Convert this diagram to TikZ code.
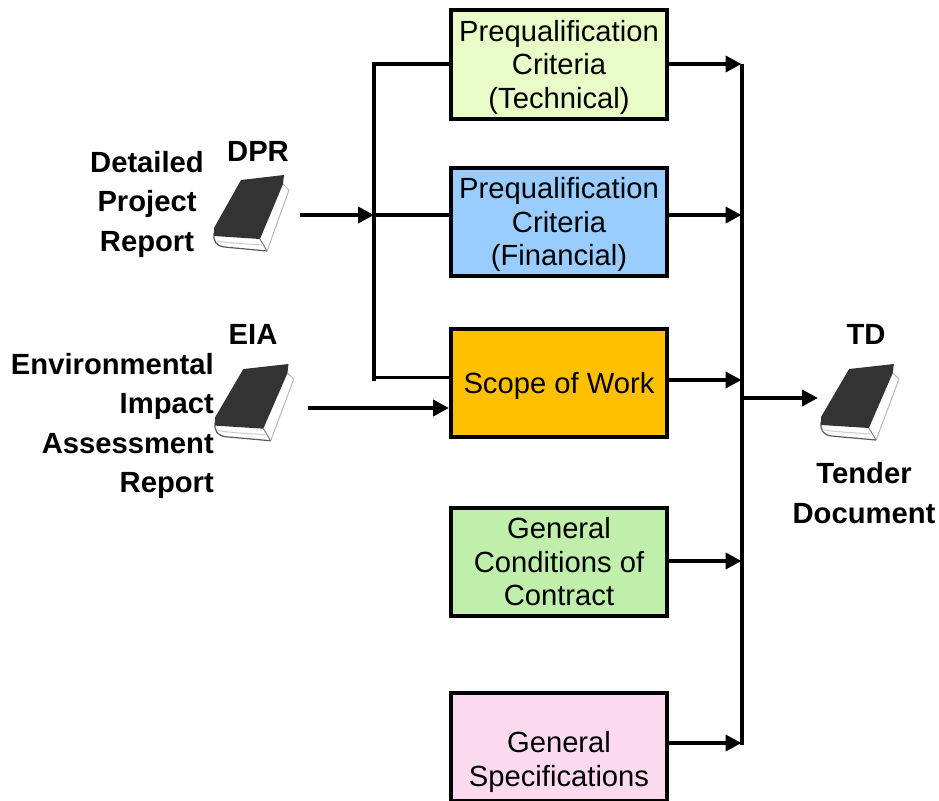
\documentclass[tikz,border=0pt]{standalone}
\usepackage{fontspec}
\setmainfont{Liberation Sans}
\usetikzlibrary{arrows.meta}
\definecolor{cTech}{HTML}{E9FCC8}
\definecolor{cFin}{HTML}{99CCFF}
\definecolor{cScope}{HTML}{FFC000}
\definecolor{cGen}{HTML}{C0EEAB}
\definecolor{cSpec}{HTML}{FBD9EE}
\definecolor{cCover}{HTML}{333333}
\newcommand{\dropped}[1]{\rule{0pt}{#1pt}}
\tikzset{
  x=1pt,y=-1pt,
  stagebox/.style={draw=black,line width=4pt,minimum width=216pt,minimum height=108pt,inner sep=0pt,align=center,font=\fontsize{29.2}{33.6}\selectfont},
  lab/.style={inner sep=0pt,font=\bfseries\fontsize{29.2}{39.5}\selectfont},
  link/.style={draw=black,line width=3.2pt},
  bus/.style={draw=black,line width=4pt},
  flow/.style={draw=black,line width=3.8pt,-{Triangle[length=16pt,width=16pt]}},
  book/.pic={
    \fill[white] (0,61) .. controls (0,68) and (3,72) .. (10,72) -- (53,76) -- (75,15) -- (70,0) -- cycle;
    \draw[black!28,line width=1pt] (69,9) -- (75,15) -- (53,76);
    \draw[black!65,line width=1.2pt] (0,58) .. controls (-1,67) and (3,71) .. (10,72) -- (53,76);
    \draw[black!50,line width=1pt] (46,64) -- (53,76);
    \draw[black!20,line width=1pt] (3,66) .. controls (15,68) and (35,69) .. (48,70);
    \fill[cCover] (27,5) -- (70,0) -- (69,9) -- (46,64) -- (0,61) -- (0,53) -- cycle;
  }
}
\begin{document}
\begin{tikzpicture}
\useasboundingbox (0,0) rectangle (939,800);
\begin{scope}
\clip (0,0) rectangle (939,800);
\node[stagebox,fill=cTech] (tech) at (559,64.5) {\dropped{27}Prequalification\\Criteria\\(Technical)};
\node[stagebox,fill=cFin] (fin) at (559,221.5) {\dropped{27.5}Prequalification\\Criteria\\(Financial)};
\node[stagebox,fill=cScope] (scope) at (559,383) {\dropped{28}Scope of Work};
\node[stagebox,fill=cGen] (gcc) at (559,561.5) {\dropped{21.5}General\\Conditions of\\Contract};
\node[stagebox,fill=cSpec] (spec) at (559,747) {\dropped{51}General\\Specifications};
\end{scope}
\pic at (214,175) {book};
\pic[xscale=1.05,yscale=1.01] at (215,364) {book};
\pic[xscale=1.04,yscale=1.0] at (821,364) {book};
\node[lab] (dpr) at (258,151) {DPR};
\node[lab] (eia) at (253,334) {EIA};
\node[lab] (td) at (866,334) {TD};
\node[lab,align=center,anchor=north] (dprtxt) at (147,151) {Detailed\\Project\\Report};
\node[lab,align=right,anchor=north east] (eiatxt) at (214,353) {Environmental\\Impact\\Assessment\\Report};
\node[lab,align=center,anchor=north] (tdtxt) at (864,462.5) {Tender\\Document};
% buses
\coordinate (ltop) at (374,64);
\coordinate (lbot) at (374,381);
\coordinate (lscope) at (374,377.5);
\coordinate (lmid) at (374,215);
\coordinate (rtop) at (741.5,64);
\coordinate (rbot) at (741.5,745);
\coordinate (rtd) at (741.5,398);
\coordinate (dprout) at (300,215);
\coordinate (eiaout) at (308,408);
\coordinate (tdin) at (818,398);
\draw[bus] (374,62) -- (lbot);
\draw[bus] (rtop) -- (rbot);
\draw[link] (ltop) -- (tech.west |- ltop);
\draw[link] (lmid) -- (fin.west |- lmid);
\draw[link] (lscope) -- (scope.west |- lscope);
\draw[flow] (dprout) -- (lmid);
\draw[flow] (eiaout) -- (scope.west |- eiaout);
\draw[flow] (tech.east |- ltop) -- (rtop |- ltop);
\draw[flow] (fin.east |- lmid) -- (rtop |- lmid);
\draw[flow] (scope.east |- 0,380) -- (rtop |- 0,380);
\draw[flow] (gcc.east |- 0,561) -- (rtop |- 0,561);
\draw[flow] (spec.east |- 0,743) -- (rtop |- 0,743);
\draw[flow] (rtd) -- (tdin);
\end{tikzpicture}
\end{document}
